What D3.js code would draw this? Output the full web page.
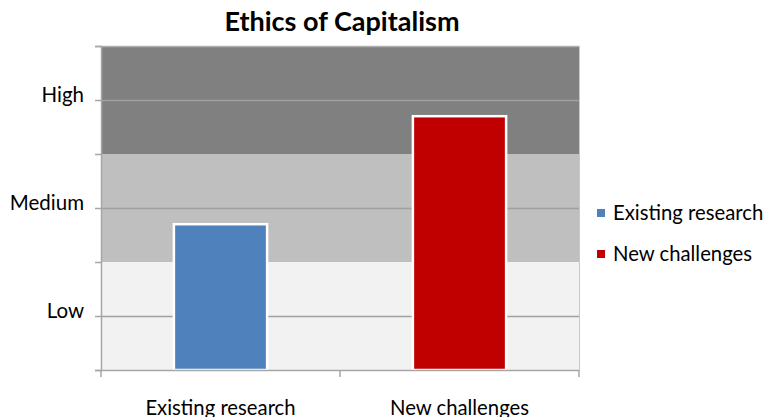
<!DOCTYPE html>
<html>
<head>
<meta charset="utf-8">
<script src="https://cdn.jsdelivr.net/npm/d3@7"></script>
<style>
  html, body { margin: 0; padding: 0; background: #fff; }
  svg { display: block; font-family: Lato, "Open Sans", sans-serif; }
</style>
</head>
<body>
<svg id="chart" width="769" height="417"></svg>
<script>
// Chart data
const categories = ["Existing research", "New challenges"];
const values = [2.7, 4.7];
const colors = ["#4f81bd", "#c00000"];
const levelTicks = [1, 3, 5];
const levelLabels = ["Low", "Medium", "High"];
const bandRanges = [[0, 2], [2, 4], [4, 6]];
const bandColors = ["#f2f2f2", "#bfbfbf", "#808080"];

const svg = d3.select("#chart");
const margin = { left: 101, right: 190, top: 46, bottom: 47 };
const width = 769 - margin.left - margin.right;
const height = 417 - margin.top - margin.bottom;

const g = svg.append("g").attr("transform", `translate(${margin.left},${margin.top})`);

const x = d3.scaleBand().domain(categories).range([0, width]).paddingInner(0.61).paddingOuter(0.305);
const xOuter = d3.scaleBand().domain(categories).range([0, width]);
const y = d3.scaleLinear().domain([0, 6]).range([height, 0]);

// Background level bands
g.selectAll("rect.band").data(bandRanges).join("rect")
  .attr("class", "band")
  .attr("x", 0)
  .attr("width", width)
  .attr("y", d => y(d[1]))
  .attr("height", d => y(d[0]) - y(d[1]))
  .attr("fill", (d, i) => bandColors[i]);

// Gridlines at each unit
g.selectAll("line.grid").data(d3.range(1, 7)).join("line")
  .attr("class", "grid")
  .attr("x1", 0).attr("x2", width)
  .attr("y1", d => y(d) + 0.5).attr("y2", d => y(d) + 0.5)
  .attr("stroke", d => d === 6 ? "#b0b0b0" : "#a0a0a0")
  .attr("stroke-width", d => (d === 2 || d === 4) ? 0 : 1.5);

// Right edge of plot area
g.append("line")
  .attr("x1", width + 0.5).attr("x2", width + 0.5)
  .attr("y1", 0).attr("y2", height)
  .attr("stroke", "#c8c8c8");

// Bars
g.selectAll("rect.bar").data(values).join("rect")
  .attr("class", "bar")
  .attr("x", (d, i) => x(categories[i]))
  .attr("width", x.bandwidth())
  .attr("y", d => y(d))
  .attr("height", d => y(0) - y(d))
  .attr("fill", (d, i) => colors[i])
  .attr("stroke", "#ffffff")
  .attr("stroke-width", 2.5);

// Y axis
const yAxis = d3.axisLeft(y).tickValues(d3.range(0, 7)).tickSize(6).tickPadding(11)
  .tickFormat(d => { const k = levelTicks.indexOf(d); return k >= 0 ? levelLabels[k] : ""; });
const ya = g.append("g").call(yAxis);
ya.select(".domain").attr("stroke", "#a6a6a6").attr("stroke-width", 1.5);
ya.selectAll(".tick line").attr("stroke", "#a6a6a6").attr("stroke-width", 1.5);
ya.selectAll(".tick text").attr("font-size", 20.5).attr("fill", "#000")
  .attr("font-family", "Lato, sans-serif").attr("dy", "0.06em");

// X axis
const xTickPositions = [0, xOuter.step(), width];
const xa = g.append("g").attr("transform", `translate(0,${height})`);
xa.append("line").attr("x1", 0).attr("x2", width).attr("y1", 0.5).attr("y2", 0.5)
  .attr("stroke", "#a6a6a6").attr("stroke-width", 1.5);
xa.selectAll("line.xt").data(xTickPositions).join("line")
  .attr("class", "xt")
  .attr("x1", d => d).attr("x2", d => d).attr("y1", 0).attr("y2", 7)
  .attr("stroke", "#a6a6a6").attr("stroke-width", 1.5);
xa.selectAll("text").data(categories).join("text")
  .attr("x", d => xOuter(d) + xOuter.bandwidth() / 2)
  .attr("y", 45)
  .attr("text-anchor", "middle")
  .attr("font-size", 20.3)
  .attr("fill", "#000")
  .text(d => d);

// Title
svg.append("text")
  .attr("x", margin.left + width / 2 + 2)
  .attr("y", 31)
  .attr("text-anchor", "middle")
  .attr("font-size", 27)
  .attr("font-weight", "bold")
  .attr("fill", "#000")
  .text("Ethics of Capitalism");

// Legend
const legend = svg.append("g").attr("transform", "translate(597,213)");
const items = legend.selectAll("g").data(categories).join("g")
  .attr("transform", (d, i) => `translate(0,${i * 41})`);
items.append("rect").attr("x", 0).attr("y", -4).attr("width", 8).attr("height", 8)
  .attr("fill", (d, i) => colors[i]);
items.append("text").attr("x", 16).attr("y", 0).attr("dy", "0.35em")
  .attr("font-size", 20.3).attr("fill", "#000").text(d => d);
</script>
</body>
</html>
